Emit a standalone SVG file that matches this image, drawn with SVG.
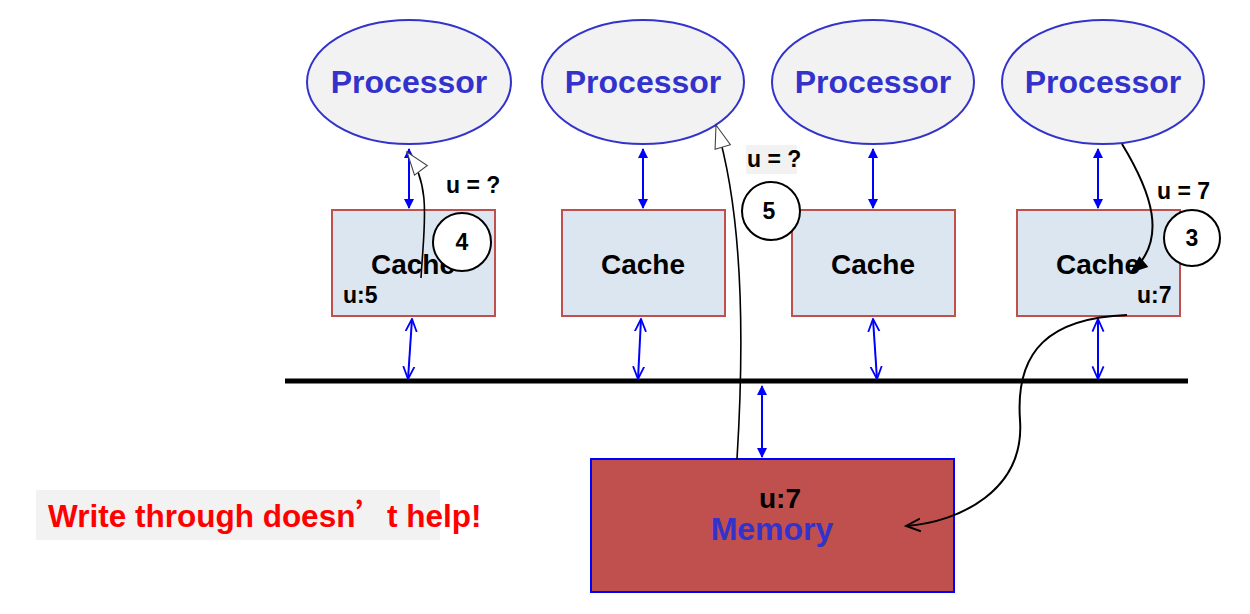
<svg xmlns="http://www.w3.org/2000/svg" width="1250" height="614" viewBox="0 0 1250 614">
<style>
.proc{fill:#f2f2f2;stroke:#3333cc;stroke-width:2}
.ptxt{font-family:"Liberation Sans",Arial,sans-serif;font-weight:bold;font-size:32px;fill:#3333cc;text-anchor:middle}
.cache{fill:#dce6f1;stroke:#c0504d;stroke-width:2}
.ctxt{font-family:"Liberation Sans",Arial,sans-serif;font-weight:bold;font-size:28px;fill:#000;text-anchor:middle}
.lbl{font-family:"Liberation Sans",Arial,sans-serif;font-weight:bold;font-size:23px;fill:#000}
.num{font-family:"Liberation Sans",Arial,sans-serif;font-weight:bold;font-size:23px;fill:#000;text-anchor:middle}
.circ{fill:#fff;stroke:#000;stroke-width:2}
.blue{stroke:#0000ff;stroke-width:2;fill:none}
.blk{stroke:#000;stroke-width:2;fill:none}
</style>
<defs>
<marker id="bf" viewBox="0 0 10 10" refX="9" refY="5" markerWidth="5" markerHeight="5" orient="auto-start-reverse"><path d="M0,0 L10,5 L0,10 z" fill="#0000ff"/></marker>
<marker id="bo" viewBox="0 0 10 10" refX="9" refY="5" markerWidth="7" markerHeight="7" orient="auto-start-reverse"><path d="M0,1 L9,5 L0,9" fill="none" stroke="#0000ff" stroke-width="1.3"/></marker>
<marker id="hollow" viewBox="0 0 26 26" refX="24" refY="13" markerWidth="26" markerHeight="26" orient="auto" markerUnits="userSpaceOnUse"><path d="M1,5 L24,13 L1,21 z" fill="#fff" stroke="#444" stroke-width="1.1"/></marker>
<marker id="solid" viewBox="0 0 20 20" refX="19" refY="10" markerWidth="20" markerHeight="20" orient="auto" markerUnits="userSpaceOnUse"><path d="M1,3 L19,10 L1,17 z" fill="#000"/></marker>
<marker id="openblk" viewBox="0 0 10 10" refX="9" refY="5" markerWidth="8" markerHeight="8" orient="auto"><path d="M0,1 L9,5 L0,9" fill="none" stroke="#000" stroke-width="1.2"/></marker>
</defs>

<g id="bus"><line x1="285" y1="381" x2="1188" y2="381" stroke="#000" stroke-width="5"/></g>

<g id="proc1"><ellipse class="proc" cx="409" cy="82" rx="102" ry="62"/><text class="ptxt" x="409" y="93">Processor</text></g>
<g id="proc2"><ellipse class="proc" cx="643" cy="82" rx="101" ry="62"/><text class="ptxt" x="643" y="93">Processor</text></g>
<g id="proc3"><ellipse class="proc" cx="873" cy="82" rx="101" ry="62"/><text class="ptxt" x="873" y="93">Processor</text></g>
<g id="proc4"><ellipse class="proc" cx="1103" cy="82" rx="101" ry="62"/><text class="ptxt" x="1103" y="93">Processor</text></g>

<g id="cache1"><rect class="cache" x="332" y="210" width="163" height="106"/><text class="ctxt" x="413" y="274">Cache</text><text class="lbl" x="343" y="303">u:5</text></g>
<g id="cache2"><rect class="cache" x="562" y="210" width="163" height="106"/><text class="ctxt" x="643" y="274">Cache</text></g>
<g id="cache3"><rect class="cache" x="792" y="210" width="163" height="106"/><text class="ctxt" x="873" y="274">Cache</text></g>
<g id="cache4"><rect class="cache" x="1017" y="210" width="163" height="106"/><text class="ctxt" x="1098" y="274">Cache</text><text class="lbl" x="1137" y="303">u:7</text></g>

<g id="memory"><rect x="591" y="459" width="363" height="133" fill="#c0504d" stroke="#0000ff" stroke-width="2"/><text class="ctxt" x="780" y="508" font-size="24">u:7</text><text class="ptxt" x="772" y="540">Memory</text></g>

<g id="connectors">
<line class="blue" x1="409" y1="149" x2="409" y2="208" marker-start="url(#bf)" marker-end="url(#bf)"/>
<line class="blue" x1="643" y1="149" x2="643" y2="208" marker-start="url(#bf)" marker-end="url(#bf)"/>
<line class="blue" x1="873" y1="149" x2="873" y2="208" marker-start="url(#bf)" marker-end="url(#bf)"/>
<line class="blue" x1="1098" y1="149" x2="1098" y2="208" marker-start="url(#bf)" marker-end="url(#bf)"/>
<line class="blue" x1="412" y1="319" x2="408" y2="379" marker-start="url(#bo)" marker-end="url(#bo)"/>
<line class="blue" x1="641" y1="319" x2="638" y2="379" marker-start="url(#bo)" marker-end="url(#bo)"/>
<line class="blue" x1="873" y1="319" x2="877" y2="379" marker-start="url(#bo)" marker-end="url(#bo)"/>
<line class="blue" x1="1098" y1="319" x2="1098" y2="379" marker-start="url(#bo)" marker-end="url(#bo)"/>
<line class="blue" x1="762" y1="386" x2="762" y2="457" marker-start="url(#bf)" marker-end="url(#bf)"/>
<path class="blk" d="M421,278 C424,225 432,185 407,152" marker-end="url(#hollow)" style="stroke-width:1.6"/>
<path class="blk" d="M737,459 C745,330 742,210 716,125" marker-end="url(#hollow)" style="stroke-width:1.6"/>
<path class="blk" d="M1122,144 C1150,190 1170,240 1130,273" marker-end="url(#solid)"/>
<path class="blk" d="M1127,315 C1050,318 1015,350 1020,420 C1025,490 960,522 906,526" marker-end="url(#openblk)"/>
</g>

<g id="step4"><circle class="circ" cx="462" cy="242" r="29"/><text class="num" x="462" y="250">4</text><text class="lbl" x="446" y="193">u = ?</text></g>
<g id="step5"><circle class="circ" cx="771" cy="211" r="29"/><text class="num" x="769" y="219">5</text><rect x="746" y="145" width="51" height="29" fill="#f2f2f2"/><text class="lbl" x="747" y="167">u = ?</text></g>
<g id="step3"><circle class="circ" cx="1192" cy="238" r="28"/><text class="num" x="1192" y="246">3</text><text class="lbl" x="1157" y="199">u = 7</text></g>

<g id="note"><rect x="36" y="490" width="404" height="50" fill="#f2f2f2"/><text x="48" y="527" font-family="'Liberation Sans',Arial,'Noto Sans CJK SC',sans-serif" font-weight="bold" font-size="31.5" fill="#ff0000">Write through doesn<tspan font-family="'Noto Sans CJK SC',sans-serif">’</tspan>t help!</text></g>
</svg>
